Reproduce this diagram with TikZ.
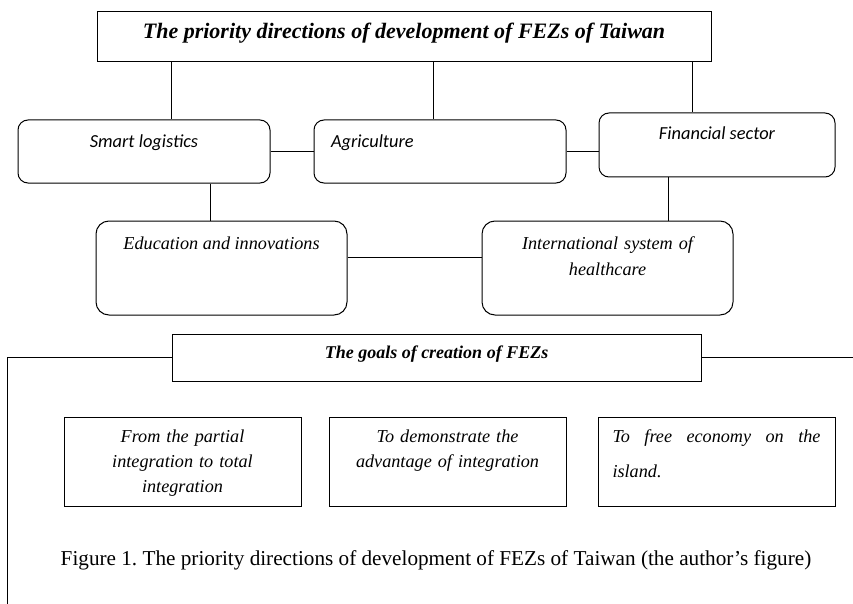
\documentclass[tikz,border=0pt]{standalone}
\usepackage{fontspec}
\setmainfont{Liberation Serif}
\newfontfamily\cali{Carlito}
\usetikzlibrary{calc}
\frenchspacing
\tikzset{wire/.style={line width=0.9pt},
  rbox/.style={draw, line width=1pt, rounded corners=10pt, inner sep=0pt},
  sqbox/.style={draw, line width=1pt, inner sep=0pt},
  sans/.style={font=\cali\itshape\fontsize{18.4}{22}\selectfont},
  ital/.style={font=\itshape\fontsize{18.2}{25}\selectfont}}

\begin{document}
\begin{tikzpicture}[x=1pt, y=-1pt]
  \useasboundingbox (0,0) rectangle (853,604);
  \node[sqbox, minimum width=614pt, minimum height=50pt, text height=27pt, text depth=23pt,
    font=\bfseries\itshape\fontsize{22}{26}\selectfont] (top) at (404,37)
    {The priority directions of development of FEZs of Taiwan};
  % directions
  \node[rbox, sans, minimum width=252pt, minimum height=63pt, text height=28pt, text depth=35pt] (smart) at (144,151.5) {Smart logistics};
  \node[rbox, sans, text width=218pt, inner xsep=17pt, align=left, minimum height=63pt, text height=28pt, text depth=35pt] (agri) at (440,151.5) {Agriculture};
  \node[rbox, sans, minimum width=236pt, minimum height=64pt, text height=27pt, text depth=37pt] (fin) at (717,145) {Financial sector};
  \node[rbox, ital, rounded corners=13pt, minimum width=251pt, minimum height=94pt, text height=28pt, text depth=66pt] (edu) at (221.5,268) {Education and innovations};
  \node[rbox, ital, rounded corners=13pt, text width=231pt, inner xsep=10pt, align=center, font=\itshape\fontsize{18.2}{26}\selectfont,
    text height=28pt, text depth=66pt] (intl) at (607.5,268) {International system of\\healthcare};
  % links from the title
  \draw[wire] (top.south -| 171,0) -- (smart.north -| 171,0);
  \draw[wire] (top.south -| 433,0) -- (agri.north -| 433,0);
  \draw[wire] (top.south -| 692,0) -- (fin.north -| 692,0);
  \draw[wire] (smart) -- (agri);
  \draw[wire] (agri.east) -- (agri.east -| fin.west);
  \draw[wire] (smart.south -| 210,0) -- (edu.north -| 210,0);
  \draw[wire] (fin.south -| 668,0) -- (intl.north -| 668,0);
  \draw[wire] ([yshift=11pt]edu.east) -- ([yshift=11pt]edu.east -| intl.west);
  % goals
  \node[sqbox, minimum width=529pt, minimum height=47pt, text height=24pt, text depth=23pt,
    font=\bfseries\itshape\fontsize{18}{20}\selectfont] (goals) at (436.5,357.5) {The goals of creation of FEZs};
  \coordinate (lend) at (7,604);
  \coordinate (rend) at (853,357);
  \draw[wire] (goals.west) -| (lend);
  \draw[wire] (goals.east) -- (goals.east -| rend);
  \node[sqbox, ital, text width=217pt, inner xsep=10pt, align=center, minimum height=89pt, text height=25pt, text depth=64pt] (g1) at (182.5,461.5)
    {From the partial\\integration to total\\integration};
  \node[sqbox, ital, text width=217pt, inner xsep=10pt, align=center, minimum height=89pt, text height=25pt, text depth=64pt] (g2) at (447.5,461.5)
    {To demonstrate the\\advantage of integration};
  \node[sqbox, ital, text width=208pt, inner xsep=14.5pt, align=left, minimum height=89pt, text height=25pt, text depth=64pt,
    font=\itshape\fontsize{18.2}{35}\selectfont] (g3) at (716.5,461.5)
    {To\hfill free\hfill economy\hfill on\hfill the\\island.};
  \node[anchor=base, font=\fontsize{21.2}{26}\selectfont] (cap) at (436,565)
    {Figure 1. The priority directions of development of FEZs of Taiwan (the author's figure)};
\end{tikzpicture}
\end{document}
